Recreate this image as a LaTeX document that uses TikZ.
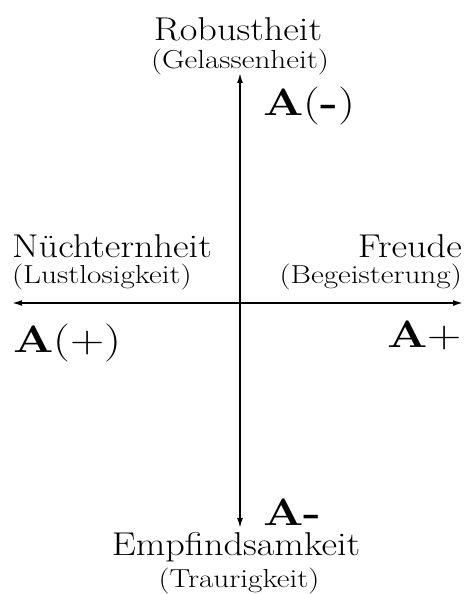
\documentclass[tikz,border=0pt]{standalone}
\usepackage{tikz}
\usetikzlibrary{arrows.meta, positioning}

\newcommand{\polelab}[1]{\scalebox{1.16}[1]{#1}}
\newcommand{\sublab}[1]{\scalebox{1.2}[1]{#1}}
\newcommand{\quadlab}[1]{\scalebox{1.25}[1]{#1}}

\begin{document}
\begin{tikzpicture}[
        x=1pt, y=1pt,
        axis/.style={{Latex[length=10pt,width=6pt]}-{Latex[length=10pt,width=6pt]}, line width=1.6pt},
        pole/.style={inner sep=0pt, font=\fontsize{33}{36}\selectfont},
        sub/.style={inner sep=0pt, font=\fontsize{26}{28}\selectfont},
        quad/.style={inner sep=0pt, text depth=0pt, font=\fontsize{38}{40}\selectfont}
    ]
        \useasboundingbox (-240,-291) rectangle (228,303);
        \coordinate (ytop) at (0,230);
        \coordinate (ybot) at (0,-225);
        \coordinate (xleft) at (-228,0);
        \coordinate (xright) at (223,0);

        \node[pole, anchor=base] (rob) at (-2,262) {\polelab{Robustheit}};
        \node[sub, anchor=base] (gel) at (0,234) {\sublab{(Gelassenheit)}};
        \node[quad, anchor=base west] (am) at (23,187) {\quadlab{\textbf{A}(\textbf{-})}};

        \node[pole, anchor=base west] (nue) at (-228,45) {\polelab{Nüchternheit}};
        \node[sub, anchor=base west] (lust) at (-228,19) {\sublab{(Lustlosigkeit)}};
        \node[quad, anchor=base west] (ap) at (-227,-49) {\quadlab{\textbf{A}(+)}};

        \node[pole, anchor=base east] (freu) at (222,45) {\polelab{Freude}};
        \node[sub, anchor=base east] (beg) at (222,19) {\sublab{(Begeisterung)}};
        \node[quad, anchor=base east] (aplus) at (222,-45) {\quadlab{\textbf{A}+}};

        \node[quad, anchor=base west] (aminus) at (23,-222) {\quadlab{\textbf{A-}}};
        \node[pole, anchor=base] (emp) at (-4,-252) {\polelab{Empfindsamkeit}};
        \node[sub, anchor=base] (trau) at (-1,-284) {\sublab{(Traurigkeit)}};

        \draw[axis] (ybot) -- (ytop);
        \draw[axis] (xleft) -- (xright);
\end{tikzpicture}
\end{document}
